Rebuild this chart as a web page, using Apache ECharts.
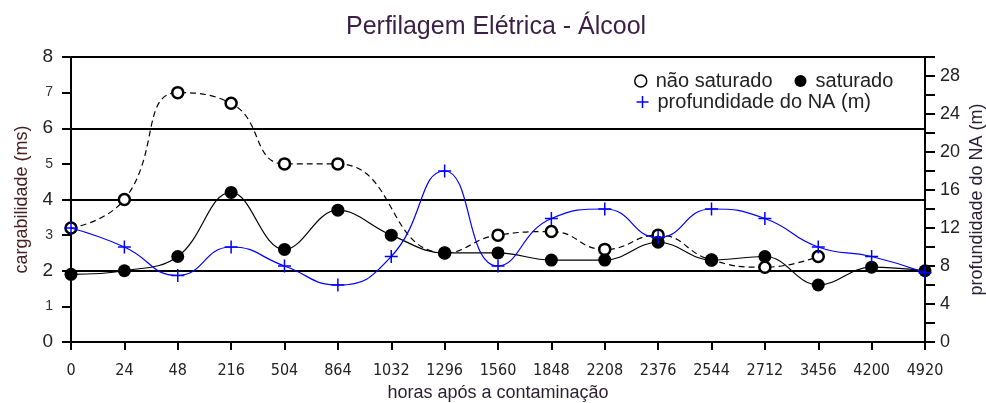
<!DOCTYPE html>
<html>
<head>
<meta charset="utf-8">
<script src="https://cdn.jsdelivr.net/npm/echarts@6/dist/echarts.min.js"></script>
<style>
html,body{margin:0;padding:0;background:#fff;}
#chart{width:986px;height:403px;}
</style>
</head>
<body>
<div id="chart"></div>
<script>
const categories = ['0','24','48','216','504','864','1032','1296','1560','1848','2208','2376','2544','2712','3456','4200','4920'];
const naoSaturado = [3.2, 4.0, 7.0, 6.7, 5.0, 5.0, null, 2.5, 3.0, 3.1, 2.6, 3.0, 2.3, 2.1, 2.4, null, null];
const saturado = [1.9, 2.0, 2.4, 4.2, 2.6, 3.7, 3.0, 2.5, 2.5, 2.3, 2.3, 2.8, 2.3, 2.4, 1.6, 2.1, 2.0];
const profundidade = [12, 10, 7, 10, 8, 6, 9, 18, 8, 13, 14, 11, 14, 13, 10, 9, 7.3];
const leftTicks = [0, 1, 2, 3, 4, 5, 6, 7, 8];
const rightTickLabels = [0, 4, 8, 12, 16, 20, 24, 28];

const FONT = 'Liberation Sans, Arial, sans-serif';
const plusPath = 'path://M0,6H12M6,0V12';

const chart = echarts.init(document.getElementById('chart'), null, {renderer: 'canvas'});
chart.setOption({
  animation: false,
  backgroundColor: '#fff',
  title: {
    text: 'Perfilagem Elétrica - Álcool',
    left: 346,
    top: 15,
    padding: 0,
    textStyle: {fontFamily: FONT, fontSize: 25, fontWeight: 'normal', color: '#3b1f45'}
  },
  legend: [{
    left: 629, top: 66,
    itemWidth: 20, itemHeight: 12, itemGap: 22,
    textStyle: {fontFamily: FONT, fontSize: 20, color: '#222'},
    data: [
      {name: 'não saturado', icon: 'circle', itemStyle: {color: '#fff', borderColor: '#000', borderWidth: 1.5}},
      {name: 'saturado', icon: 'circle', itemStyle: {color: '#000', borderWidth: 0}}
    ]
  }, {
    left: 629, top: 87,
    itemWidth: 20, itemHeight: 12,
    textStyle: {fontFamily: FONT, fontSize: 20, color: '#222'},
    data: [
      {name: 'profundidade do NA (m)', icon: plusPath, itemStyle: {color: 'none', borderColor: '#0000ff', borderWidth: 1.5}}
    ]
  }],
  grid: {left: 71, right: 61, top: 57, bottom: 61, containLabel: false, outerBoundsMode: 'none'},
  xAxis: {
    type: 'category',
    data: categories,
    boundaryGap: false,
    name: 'horas após a contaminação',
    nameLocation: 'middle',
    nameGap: 42,
    nameMoveOverlap: false,
    nameTextStyle: {fontFamily: FONT, fontSize: 18, color: '#2a1f30'},
    axisLine: {lineStyle: {color: '#000', width: 2}},
    axisTick: {show: true, length: 8, lineStyle: {color: '#000', width: 2}},
    axisLabel: {interval: 0, margin: 21, fontFamily: 'Liberation Sans Narrow, DejaVu Sans Condensed, Arial Narrow, sans-serif', fontSize: 16, color: '#222'},
    splitLine: {show: false}
  },
  yAxis: [{
    type: 'value',
    min: 0, max: 8, interval: 1,
    position: 'left',
    name: 'cargabilidade (ms)',
    nameLocation: 'middle',
    nameRotate: 90,
    nameGap: 40,
    nameMoveOverlap: false,
    nameTextStyle: {fontFamily: FONT, fontSize: 18, color: '#4a2020'},
    axisLine: {show: true, lineStyle: {color: '#000', width: 2}},
    axisTick: {show: true, length: 9, lineStyle: {color: '#000', width: 2}},
    axisLabel: {
      margin: 18,
      formatter: function (v) { return leftTicks.indexOf(v) % 2 === 0 ? '{big|' + v + '}' : '{small|' + v + '}'; },
      rich: {
        big: {fontFamily: FONT, fontSize: 19, color: '#222'},
        small: {fontFamily: FONT, fontSize: 14, color: '#333'}
      }
    },
    splitLine: {show: false}
  }, {
    type: 'value',
    min: 0, max: 30, interval: 2,
    position: 'right',
    name: 'profundidade do NA (m)',
    nameLocation: 'middle',
    nameRotate: 90,
    nameGap: 43,
    nameMoveOverlap: false,
    nameTextStyle: {fontFamily: FONT, fontSize: 18, color: '#2a1f35'},
    axisLine: {show: true, lineStyle: {color: '#000', width: 2}},
    axisTick: {show: true, length: 10, lineStyle: {color: '#000', width: 2}},
    axisLabel: {
      margin: 15,
      fontFamily: FONT, fontSize: 18, color: '#222',
      formatter: function (v) { return rightTickLabels.indexOf(v) >= 0 ? String(v) : ''; }
    },
    splitLine: {show: false}
  }, {
    type: 'value',
    min: 0, max: 8, interval: 2,
    position: 'left',
    axisLine: {show: false},
    axisTick: {show: false},
    axisLabel: {show: false},
    splitLine: {show: true, lineStyle: {color: '#000', width: 2}}
  }],
  series: [{
    name: 'não saturado',
    type: 'line',
    data: naoSaturado,
    yAxisIndex: 0,
    connectNulls: true,
    smooth: 0.5,
    symbol: 'circle',
    symbolSize: 11,
    itemStyle: {color: '#fff', borderColor: '#000', borderWidth: 2.5},
    lineStyle: {color: '#000', width: 1.2, type: [6, 4]},
    z: 2
  }, {
    name: 'saturado',
    type: 'line',
    data: saturado,
    yAxisIndex: 0,
    smooth: 0.4,
    symbol: 'circle',
    symbolSize: 13,
    itemStyle: {color: '#000', borderWidth: 0},
    lineStyle: {color: '#000', width: 1.2},
    z: 3
  }, {
    name: 'profundidade do NA (m)',
    type: 'line',
    data: profundidade,
    yAxisIndex: 1,
    smooth: 0.5,
    symbol: plusPath,
    symbolSize: 13,
    itemStyle: {color: 'none', borderColor: '#0000ff', borderWidth: 1.5},
    lineStyle: {color: '#0000ff', width: 1.2},
    z: 4
  }]
});
</script>
</body>
</html>
